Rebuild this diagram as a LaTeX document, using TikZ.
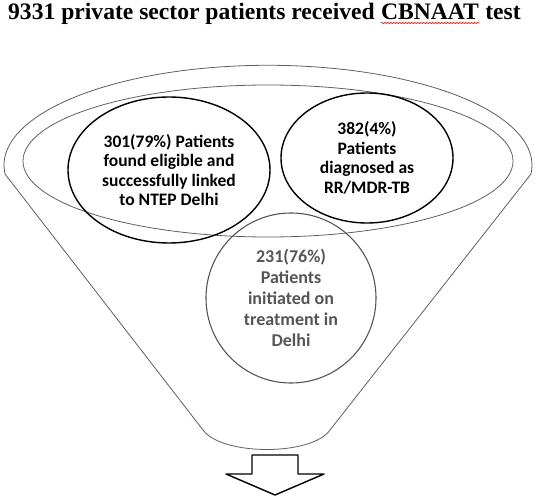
\documentclass[tikz,border=0pt]{standalone}
\usepackage{fontspec}
\setmainfont{Liberation Serif}
\newfontfamily\calfont{Carlito}
\usetikzlibrary{shapes.geometric,decorations.pathmorphing}
\definecolor{funnelgray}{RGB}{95,95,95}
\definecolor{textgray}{RGB}{85,85,85}
\begin{document}
\begin{tikzpicture}[x=1pt, y=-1pt, line join=round,
    head/.style={inner sep=0pt, font=\bfseries\fontsize{23.6}{28}\selectfont},
    oval/.style={ellipse, draw, inner sep=0pt, align=center,
        font=\calfont\bfseries\fontsize{17.5}{19.5}\selectfont},
    rim/.style={draw=funnelgray, line width=0.8pt}]
    \useasboundingbox (0,0) rectangle (536,500);
    % title
    \node[head, anchor=base west] (title) at (8,20) {9331 private sector patients received};
    \node[head, anchor=base west] (cbnaat) at ([xshift=5.9pt]title.base east) {CBNAAT};
    \node[head, anchor=base west] (test) at ([xshift=5.9pt]cbnaat.base east) {test};
    \draw[red, line width=0.6pt, decorate,
        decoration={snake, amplitude=0.7pt, segment length=3pt}]
        ([yshift=-3pt]cbnaat.base west) -- ([yshift=-3pt]cbnaat.base east);
    % funnel
    \coordinate (FL) at (5,174);
    \coordinate (BL) at (203,430);
    \coordinate (BR) at (330,430);
    \coordinate (FR) at (531,174);
    \draw[rim] (FL) arc[start angle=175, end angle=365, x radius=264, y radius=100]
        -- (BR) .. controls (312,456) and (222,456) .. (BL) -- cycle;
    \draw[rim] (268,161) ellipse[x radius=245, y radius=76];
    % circles
    \node[oval, line width=1.4pt, minimum width=202pt, minimum height=146pt]
        (linked) at (169,170) {301(79\%) Patients\\found eligible and\\successfully linked\\to NTEP Delhi};
    \node[oval, line width=1.4pt, minimum width=172pt, minimum height=130pt]
        (diag) at (367,158) {382(4\%)\\Patients\\diagnosed as\\RR/MDR-TB};
    \node[oval, draw=textgray, text=textgray, line width=1.1pt, minimum width=170pt,
        minimum height=170pt, font=\calfont\bfseries\fontsize{18}{21}\selectfont]
        (treat) at (291,298) {231(76\%)\\Patients\\initiated on\\treatment in\\Delhi};
    % arrow
    \draw[line width=1.4pt] (252,455) -- (298,455) -- (298,474) -- (324,474)
        -- (275,495) -- (226,474) -- (252,474) -- cycle;
\end{tikzpicture}
\end{document}
